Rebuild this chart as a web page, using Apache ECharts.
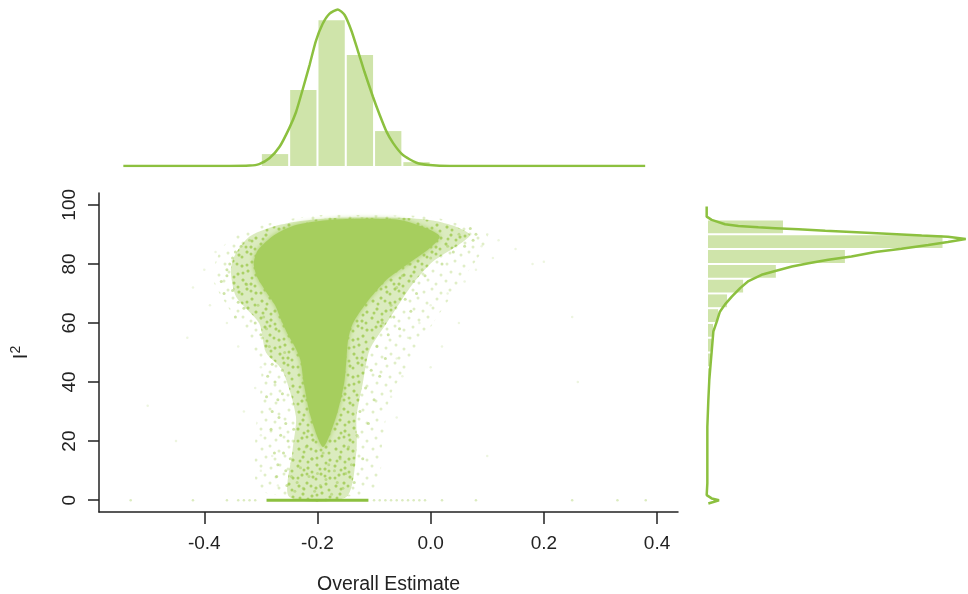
<!DOCTYPE html>
<html><head><meta charset="utf-8">
<style>html,body{margin:0;padding:0;background:#fff}#c{width:968px;height:594px}</style>
<script src="https://cdn.jsdelivr.net/npm/echarts@6/dist/echarts.min.js"></script></head>
<body><div id="c"></div>
<script>
// Top histogram (density of overall estimate)
const estBinStart=[-0.30,-0.25,-0.20,-0.15,-0.10,-0.05];
const estBinEnd=[-0.25,-0.20,-0.15,-0.10,-0.05,0.00];
const estDensity=[0.62,3.96,7.60,5.78,1.82,0.20];
const estCurveX=[-0.543,-0.356,-0.320,-0.303,-0.285,-0.267,-0.250,-0.238,-0.226,-0.214,-0.203,-0.191,-0.179,-0.164,-0.152,-0.140,-0.129,-0.117,-0.102,-0.090,-0.078,-0.066,-0.049,-0.025,-0.002,0.034,0.379];
const estCurveY=[0,0,0.02,0.10,0.40,1.00,1.96,2.80,4.00,5.26,6.50,7.40,7.93,8.16,7.87,7.05,6.04,4.91,3.61,2.66,1.79,1.18,0.57,0.17,0.05,0,0];
// Right histogram (percent of I2)
const i2BinStart=[90,85,80,75,70,65,60,55,50,45,40];
const i2BinEnd=[95,90,85,80,75,70,65,60,55,50,45];
const i2Share=[12.6,39.4,23.0,11.4,5.9,3.2,1.7,0.84,0.67,0.5,0.34];
const i2CurveShare=[-0.22,-0.22,0.62,2.86,5.1,8.46,11.3,15.2,19.7,24.1,29.2,35.9,40.3,43.3,40.3,37,32.5,28.1,24.1,20.2,16.9,14.1,11.3,9.0,6.8,5.4,4.0,2.86,2.0,1.46,0.9,0.62,0.45,0.22,0.06,-0.11,-0.11,-0.22,0.62,1.85,0.9,0.06];
const i2CurveY=[99.4,96,94.9,93.4,92.8,92.4,92.1,91.7,91.2,90.8,90.3,89.6,89.2,88.4,87.4,86.4,85.1,84,82.5,81.4,80.2,79.1,77.6,76.3,74.2,71.8,68.9,66.3,63.8,60.4,57.1,50.3,46.3,40.7,33.9,24.8,5.7,1.7,0.6,0,-0.6,-1.1];
// Saturated body of the scatter cloud, outline
const coreX=[-0.19,-0.212,-0.224,-0.23,-0.24,-0.252,-0.264,-0.275,-0.293,-0.307,-0.3125,-0.305,-0.276,-0.238,-0.16,-0.055,-0.0077,0.016,-0.002,-0.043,-0.078,-0.114,-0.1375,-0.146,-0.149,-0.153,-0.167];
const coreI2=[18,28.3,39.5,47.4,52,56,61,66.1,71.2,75.7,80.2,84.7,89.8,93.2,95.1,94.9,92.1,89.3,85.3,79.6,74.6,66.7,59.9,54.2,47.4,39.5,28.3];
// Densely speckled margin of the cloud, outline
const haloX=[-0.2496,-0.244,-0.238,-0.262,-0.291,-0.303,-0.344,-0.353,-0.344,-0.32,-0.279,-0.238,-0.161,-0.055,0.004,0.045,0.0693,0.045,0.004,-0.031,-0.055,-0.078,-0.108,-0.12,-0.131,-0.131,-0.149];
const haloI2=[1.1,16.9,28.3,44,50,59.9,69,78,83.7,89.3,92.6,94.3,95.6,95.6,94.7,92.6,89.8,85.9,80.8,73.4,66.7,59.9,50.8,39.5,28.3,16.9,1.1];
// Sparsely speckled outer margin, outline
const fringeX=[-0.30,-0.31,-0.30,-0.34,-0.385,-0.37,-0.34,-0.28,-0.2,-0.1,0,0.06,0.1,0.09,0.057,0.028,0.004,-0.03,-0.07,-0.085,-0.10];
const fringeI2=[3,20,45,60,75,85,90,94,96.5,96.5,96,93,90,84,75,66.7,59.9,48,36,20,3];
// Individually visible points around the cloud
const dotX=[-0.36,-0.355,-0.35,-0.345,-0.34,-0.37,-0.365,-0.36,-0.35,-0.345,-0.335,-0.33,-0.325,-0.32,-0.31,-0.305,-0.30,-0.295,-0.29,-0.285,-0.28,-0.275,-0.27,-0.268,-0.265,-0.262,-0.26,-0.258,-0.256,-0.254,-0.29,-0.282,-0.276,-0.272,-0.288,-0.28,-0.27,-0.262,-0.252,-0.246,-0.24,-0.256,-0.248,-0.242,-0.236,-0.23,-0.225,-0.22,-0.215,-0.21,-0.205,-0.20,-0.195,-0.19,-0.185,-0.18,-0.175,-0.17,-0.165,-0.16,-0.155,-0.15,-0.145,-0.14,-0.135,-0.13,-0.125,-0.12,-0.115,-0.11,-0.105,-0.10,-0.095,-0.09,-0.085,-0.08,-0.075,-0.07,-0.065,-0.06,-0.055,-0.05,-0.045,-0.04,-0.035,-0.03,-0.025,-0.02,-0.015,-0.01,0.0,0.01,0.02,0.03,0.04,0.05,0.06,0.07,0.075,0.08];
const dotI2=[76,80,71,84,67,74,70,78,82,62,86,65,73,88,60,66,56,62,58,52,46,40,34,28,22,44,16,50,10,5,35,24,16,8,42,30,12,36,20,8,3,26,14,24,6,11,4,18,8,14,3,9,5,16,7,12,2,10,6,14,4,9,18,12,6,22,30,14,38,26,44,34,52,42,60,48,56,66,62,72,58,76,68,80,64,74,70,84,78,76,82,88,80,86,84,90,86,92,88,90];
// Very faint far-away points
const farX=[0.18,0.20,0.15,0.12,0.10,0.09,0.11,0.08,0.06,0.03,0.0,-0.02,-0.04,-0.06,-0.05,-0.07,-0.06,0.0,0.02,0.05,0.25,0.26,-0.38,-0.40,-0.42,-0.39,-0.36,-0.34,-0.30,-0.31,-0.33,-0.30,-0.28,-0.30,-0.27,-0.43,-0.50,-0.45,0.10];
const farI2=[80,80.7,85,88,90,86,82,78,74,70,66,60,55,48,42,35,28,45,52,60,62,40,84,78,72,66,60,52,45,38,30,22,15,10,5,55,32,20,15];
// Points along I2 = 0
const zeroX=[-0.53,-0.42,-0.36,-0.34,-0.33,-0.32,-0.31,-0.10,-0.09,-0.08,-0.07,-0.06,-0.05,-0.04,-0.03,-0.02,-0.01,0.02,0.08,0.25,0.33,0.38];
const zeroLineX=[-0.29,-0.11];
const xTicks=[-0.4,-0.2,0,0.2,0.4];
const yTicks=[0,20,40,60,80,100];

const pairs=(a,b)=>a.map((v,i)=>[v,b[i]]);
const FONT='"Liberation Sans", Arial, sans-serif';
const LIGHT='#cfe4aa', CURVE='#8cc03f', DENSE='#a6ce5e', INK='#222';
const X=[-0.586,0.437];

// Speckle fill for the regions whose separate points cannot be read
function speckle(spots,alpha,base){
  const size=37, cv=document.createElement('canvas');
  cv.width=cv.height=size;
  const g=cv.getContext('2d');
  if(base){g.fillStyle=base;g.fillRect(0,0,size,size);}
  g.fillStyle=DENSE;g.globalAlpha=alpha;
  spots.forEach(s=>{g.beginPath();g.arc(s[0],s[1],1.5,0,Math.PI*2);g.fill();});
  return {image:cv,repeat:'repeat'};
}
const spotsA=[[3,5],[11,2],[20,7],[30,3],[7,13],[16,15],[26,12],[34,16],[2,22],[12,24],[21,21],[29,25],[6,31],[17,33],[25,30],[34,34]];
const spotsB=spotsA.concat([[8,8],[15,5],[25,6],[33,9],[4,17],[12,18],[21,14],[30,19],[8,26],[16,28],[24,25],[33,27],[2,34],[11,30],[20,35],[29,32]]);
const sparseFill=speckle(spotsA,0.35,null);
const denseFill=speckle(spotsB,0.9,'rgba(166,206,94,0.4)');

const polygon=(xs,ys,fill,extra)=>(params,api)=>({
  type:'polygon',
  shape:{points:xs.map((v,i)=>api.coord([v,ys[i]])),smooth:0.25},
  style:Object.assign({fill},extra||{})
});
const hist=pairs(estBinStart,estBinEnd).map((p,i)=>[p[0],p[1],estDensity[i]]);
const hist2=pairs(i2BinStart,i2BinEnd).map((p,i)=>[p[0],p[1],i2Share[i]]);
const free={outerBoundsMode:'none',containLabel:false};

const option={
  animation:false,
  backgroundColor:'#fff',
  grid:[
    Object.assign({left:99,right:290,top:193,bottom:82},free),
    Object.assign({left:99,right:290,top:0,bottom:428},free),
    Object.assign({left:704,right:0,top:193,bottom:82},free)
  ],
  xAxis:[
    {gridIndex:0,type:'value',min:X[0],max:X[1],splitLine:{show:false},
     name:'Overall Estimate',nameLocation:'middle',nameGap:63,
     nameTextStyle:{fontFamily:FONT,fontSize:19.5,color:INK},
     axisLine:{show:true,onZero:false,lineStyle:{color:INK,width:1.5}},
     axisTick:{show:true,length:12,customValues:xTicks,lineStyle:{color:INK,width:1.5}},
     axisLabel:{customValues:xTicks,margin:22,fontFamily:FONT,fontSize:19,color:INK,formatter:v=>v.toFixed(1)}},
    {gridIndex:1,type:'value',min:X[0],max:X[1],show:false},
    {gridIndex:2,type:'value',min:-0.67,max:43.68,show:false}
  ],
  yAxis:[
    {gridIndex:0,type:'value',min:-4,max:104,splitLine:{show:false},
     name:'{i|I}{s|2}',nameLocation:'middle',nameGap:66,nameRotate:90,
     nameTextStyle:{fontFamily:FONT,color:INK,rich:{
       i:{fontFamily:FONT,fontSize:20,color:INK,lineHeight:24},
       s:{fontFamily:FONT,fontSize:14,color:INK,verticalAlign:'top',lineHeight:24}}},
     axisLine:{show:true,onZero:false,lineStyle:{color:INK,width:1.5}},
     axisTick:{show:true,length:11,customValues:yTicks,lineStyle:{color:INK,width:1.5}},
     axisLabel:{customValues:yTicks,rotate:90,margin:20,fontFamily:FONT,fontSize:19,color:INK}},
    {gridIndex:1,type:'value',min:0,max:8.65,show:false},
    {gridIndex:2,type:'value',min:-4,max:104,show:false}
  ],
  series:[
    {type:'custom',name:'fringe',xAxisIndex:0,yAxisIndex:0,clip:false,z:2,silent:true,
     data:pairs(fringeX,fringeI2).slice(0,1),renderItem:polygon(fringeX,fringeI2,sparseFill)},
    {type:'custom',name:'halo',xAxisIndex:0,yAxisIndex:0,clip:false,z:2,silent:true,
     data:pairs(haloX,haloI2).slice(0,1),renderItem:polygon(haloX,haloI2,denseFill)},
    {type:'scatter',name:'far',xAxisIndex:0,yAxisIndex:0,z:3,symbolSize:2.5,silent:true,
     data:pairs(farX,farI2),itemStyle:{color:DENSE,opacity:0.2}},
    {type:'scatter',name:'dots',xAxisIndex:0,yAxisIndex:0,z:3,symbolSize:3,silent:true,
     data:pairs(dotX,dotI2),itemStyle:{color:DENSE,opacity:0.55}},
    {type:'custom',name:'core',xAxisIndex:0,yAxisIndex:0,clip:false,z:4,silent:true,
     data:pairs(coreX,coreI2).slice(0,1),
     renderItem:polygon(coreX,coreI2,DENSE,{shadowBlur:5,shadowColor:DENSE})},
    {type:'scatter',name:'zero',xAxisIndex:0,yAxisIndex:0,z:4,symbolSize:2.5,silent:true,
     data:zeroX.map(v=>[v,0]),itemStyle:{color:DENSE,opacity:0.4}},
    {type:'line',name:'zeroLine',xAxisIndex:0,yAxisIndex:0,z:5,symbol:'none',silent:true,
     data:zeroLineX.map(v=>[v,0]),lineStyle:{color:CURVE,width:3}},
    {type:'custom',name:'estHist',xAxisIndex:1,yAxisIndex:1,z:2,silent:true,data:hist,
     encode:{x:[0,1],y:2},
     renderItem:(params,api)=>{
       const a=api.coord([api.value(0),api.value(2)]),b=api.coord([api.value(1),0]);
       return {type:'rect',shape:{x:a[0]+1,y:a[1],width:b[0]-a[0]-2,height:b[1]-a[1]},style:{fill:LIGHT}};
     }},
    {type:'line',name:'estCurve',xAxisIndex:1,yAxisIndex:1,z:3,symbol:'none',silent:true,smooth:0.2,
     data:pairs(estCurveX,estCurveY),lineStyle:{color:CURVE,width:2.5}},
    {type:'custom',name:'i2Hist',xAxisIndex:2,yAxisIndex:2,z:2,silent:true,data:hist2,
     encode:{x:2,y:[0,1]},
     renderItem:(params,api)=>{
       const a=api.coord([0,api.value(1)]),b=api.coord([api.value(2),api.value(0)]);
       return {type:'rect',shape:{x:a[0],y:a[1]+1,width:b[0]-a[0],height:b[1]-a[1]-2},style:{fill:LIGHT}};
     }},
    {type:'line',name:'i2Curve',xAxisIndex:2,yAxisIndex:2,z:3,symbol:'none',silent:true,clip:false,
     data:pairs(i2CurveShare,i2CurveY),lineStyle:{color:CURVE,width:2.5}}
  ]
};
echarts.init(document.getElementById('c'),null,{renderer:'canvas'}).setOption(option);
</script></body></html>
